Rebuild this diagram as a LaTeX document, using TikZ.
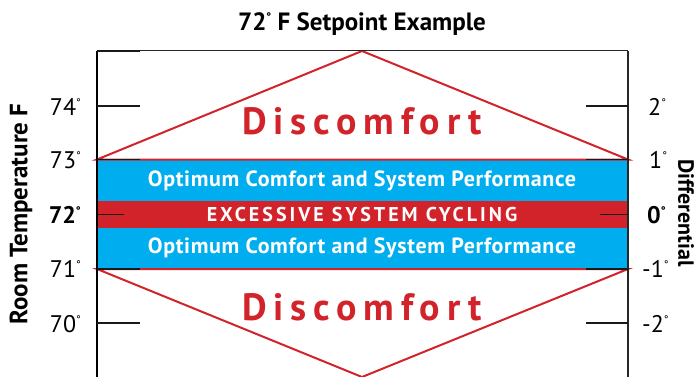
\documentclass[tikz,border=0pt]{standalone}
\usepackage{fontspec}
\setmainfont{PT Sans}
\definecolor{cblue}{HTML}{00AEEF}
\definecolor{cred}{HTML}{D2232A}
\newcommand{\dg}{\raisebox{0.38em}{\fontsize{11}{11}\selectfont °}}
\tikzset{
  redline/.style={draw=cred, line width=2pt, line join=miter},
  axisline/.style={draw=black, line width=2pt},
  tickline/.style={draw=black!90, line width=1.8pt},
  num/.style={font=\fontsize{24}{24}\selectfont, inner sep=0pt},
  band/.style={font=\fontsize{22}{22}\selectfont\bfseries\addfontfeatures{LetterSpace=3}, text=white, inner sep=0pt},
  disc/.style={font=\fontsize{38}{38}\selectfont\bfseries\addfontfeatures{LetterSpace=18}, text=cred, inner sep=0pt},
  axlabel/.style={font=\fontsize{25}{25}\selectfont\bfseries, inner sep=0pt}
}
\begin{document}
\begin{tikzpicture}[x=1pt,y=-1pt]
\useasboundingbox (0,0) rectangle (698,377);
% key points
\coordinate (TL) at (97,51);
\coordinate (TR) at (628,51);
\coordinate (BL) at (97,377);
\coordinate (BR) at (628,377);
\coordinate (UA) at (362,51);
\coordinate (UL) at (97,159.5);
\coordinate (UR) at (628,159.5);
\coordinate (LL) at (97,269);
\coordinate (LR) at (628,269);
\coordinate (LA) at (362,377);
% bands
\fill[cblue] (97,160) rectangle (628,269);
\fill[cred] (97,201) rectangle (628,228);
% triangles
\draw[redline] (UL) -- (UA) -- (UR) -- cycle;
\draw[redline] (LL) -- (LA) -- (LR) -- cycle;
% frame
\draw[draw=black!85, line width=1pt] (TL) -- (TR);
\draw[draw=black!85, line width=1.5pt] (TR) -- (BR);
\draw[axisline] (TL) -- (BL);
% left ticks
\draw[tickline] (97,51) -- (140,51);
\draw[tickline] (97,106) -- (140,106);
\draw[tickline] (97,159.5) -- (140,159.5);
\draw[tickline] (97,214.5) -- (124,214.5);
\draw[tickline] (97,269) -- (140,269);
\draw[tickline] (97,323) -- (140,323);
% right ticks
\draw[tickline] (586,106) -- (628,106);
\draw[tickline] (586,159.5) -- (628,159.5);
\draw[tickline] (600,214.5) -- (628,214.5);
\draw[tickline] (586,269) -- (628,269);
\draw[tickline] (586,323) -- (628,323);
% title
\node[font=\fontsize{25}{25}\selectfont\bfseries, inner sep=0pt] (title) at (362,24) {72\dg\ F Setpoint Example};
% band texts
\node[band] (opt1) at (362,181) {Optimum Comfort and System Performance};
\node[band, font=\fontsize{20}{20}\selectfont\bfseries\addfontfeatures{LetterSpace=15}] (exc) at (362,214.5) {EXCESSIVE SYSTEM CYCLING};
\node[band] (opt2) at (362,248) {Optimum Comfort and System Performance};
% discomfort
\node[disc] (disc1) at (362,121) {Discomfort};
\node[disc] (disc2) at (362,307) {Discomfort};
% left numbers
\node[num, anchor=east] (n74) at (81,107) {74\dg};
\node[num, anchor=east] (n73) at (81,160) {73\dg};
\node[num, anchor=east, font=\fontsize{24}{24}\selectfont\bfseries] (n72) at (81,215) {72\dg};
\node[num, anchor=east] (n71) at (81,269) {71\dg};
\node[num, anchor=east] (n70) at (81,324) {70\dg};
% right numbers
\node[num, anchor=west] (p2) at (648,107) {2\dg};
\node[num, anchor=west] (p1) at (649,160) {1\dg};
\node[num, anchor=west, font=\fontsize{24}{24}\selectfont\bfseries] (z0) at (647,215) {0\dg};
\node[num, anchor=west] (m1) at (642,269) {-1\dg};
\node[num, anchor=west] (m2) at (642,324) {-2\dg};
% axis labels
\node[axlabel, rotate=90] (ylab) at (21,214) {Room Temperature F};
\node[axlabel, rotate=-90, font=\fontsize{22}{22}\selectfont\bfseries] (dlab) at (686,213) {Differential};
\end{tikzpicture}
\end{document}
